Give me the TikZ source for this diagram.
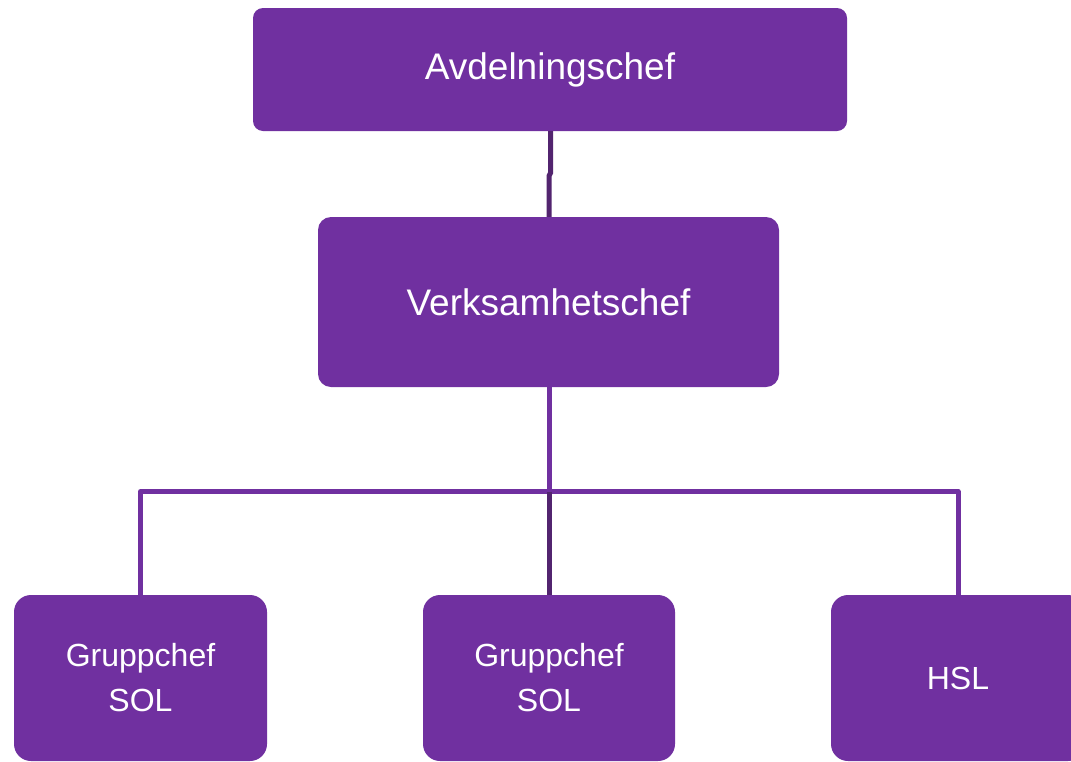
\documentclass[tikz,border=0pt]{standalone}
\usepackage{fontspec}
\setmainfont{Liberation Sans}
\definecolor{boxpurple}{HTML}{7030A0}
\definecolor{darkline}{HTML}{52246F}
\begin{document}
\begin{tikzpicture}[x=1pt,y=-1pt,
  orgbox/.style={draw=none,fill=boxpurple,text=white,inner sep=0pt,align=center},
  bigtext/.style={font=\fontsize{37}{44}\selectfont},
  smalltext/.style={font=\fontsize{32}{45}\selectfont},
  purpleline/.style={draw=boxpurple,line width=5pt},
  darkconn/.style={draw=darkline,line width=5pt}]
\useasboundingbox (0,0) rectangle (1071,761);
\clip (0,0) rectangle (1071,761);
\fill[white] (0,0) rectangle (1071,761);
% connectors first (behind boxes)
\node[orgbox,bigtext,rounded corners=10pt,minimum width=594pt,minimum height=123pt] (top) at (550,69.5) {Avdelningschef};
\node[orgbox,bigtext,rounded corners=13pt,minimum width=461pt,minimum height=170pt] (verk) at (548.5,302) {Verksamhetschef};
\node[orgbox,smalltext,rounded corners=17pt,minimum width=253pt,minimum height=166pt] (g1) at (140.5,678) {Gruppchef\\SOL};
\node[orgbox,smalltext,rounded corners=17pt,minimum width=252pt,minimum height=166pt] (g2) at (549,678) {Gruppchef\\SOL};
\node[orgbox,smalltext,rounded corners=17pt,minimum width=254pt,minimum height=166pt] (hsl) at (958,678) {HSL};
\coordinate (bus) at (549,491.5);
\begin{scope}[on background layer/.try]
\end{scope}
\draw[darkconn] (top.south -| 550.5,0) -- (550.5,173) -- (549,176) -- (verk.north -| 549,0);
\draw[purpleline] (verk.south -| bus) -- (bus);
\draw[purpleline,line join=round] (g1.north -| 140.5,0) -- (140.5,491.5) -- (958,491.5) -- (hsl.north);
\draw[darkconn] (bus) -- (g2.north);
\end{tikzpicture}
\end{document}
